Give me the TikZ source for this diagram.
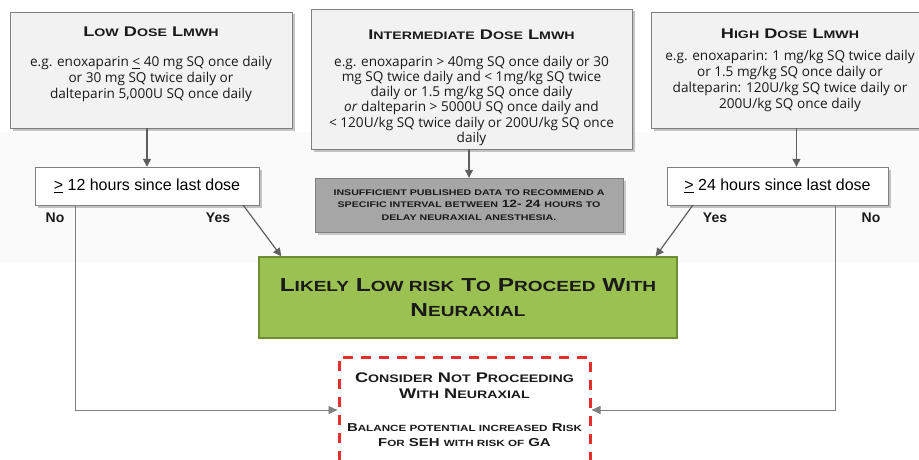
\documentclass[tikz,border=0pt]{standalone}
\usepackage{fontspec}
\usepackage{graphicx}
\usetikzlibrary{arrows.meta,shadows}
\setmainfont{Open Sans}
\newfontfamily\arialfont{Liberation Sans}
\newfontfamily\capsfont[FakeStretch=1.3]{Liberation Sans}
\newcommand{\lo}[1]{\scalebox{0.78}{#1}}
\newcommand{\padtop}[1]{\rule{0pt}{#1}}
\newcommand{\padbot}[1]{\rule[-#1]{0pt}{#1}}
\newcommand{\titlefont}{\capsfont\bfseries\fontsize{14}{16}\selectfont}
\definecolor{boxgray}{HTML}{F2F2F2}
\definecolor{linegray}{HTML}{7F7F7F}
\definecolor{arrowgray}{HTML}{5F5F5F}
\definecolor{datagray}{HTML}{A6A6A6}
\definecolor{riskgreen}{HTML}{9BC153}
\definecolor{greenline}{HTML}{6E8C34}
\definecolor{alertred}{HTML}{E3302F}
\definecolor{textblack}{HTML}{1A1A1A}

\begin{document}
\begin{tikzpicture}[x=1pt,y=-1pt,
    dosebox/.style={draw=linegray, fill=boxgray, align=center, text=textblack,
      drop shadow={shadow xshift=2.5pt, shadow yshift=-2.5pt, fill=black!45},
      font=\fontsize{13.6}{16}\selectfont},
    checkbox/.style={draw=linegray, fill=white, align=center,
      drop shadow={shadow xshift=2.5pt, shadow yshift=-2.5pt, fill=black!45},
      font=\arialfont\fontsize{16}{16}\selectfont},
    databox/.style={draw=linegray, fill=datagray, align=center, text=textblack,
      drop shadow={shadow xshift=2.5pt, shadow yshift=-2.5pt, fill=black!40},
      font=\capsfont\bfseries\fontsize{10.5}{12.5}\selectfont},
    proceedbox/.style={draw=greenline, line width=1.5pt, fill=riskgreen,
      align=center, text=textblack,
      font=\capsfont\bfseries\fontsize{18.8}{25}\selectfont},
    considerbox/.style={draw=alertred, line width=3pt,
      dash pattern=on 10pt off 8pt, align=center, text=textblack,
      font=\capsfont\bfseries\fontsize{14}{16}\selectfont},
    answer/.style={font=\arialfont\bfseries\fontsize{14}{16}\selectfont,
      text=textblack},
    flow/.style={draw=arrowgray, line width=1.2pt,
      -{Triangle[length=8pt,width=8pt]}},
    noline/.style={draw=linegray, line width=0.9pt,
      -{Triangle[length=9pt,width=8pt]}}]

    \useasboundingbox (0,0) rectangle (919,460);
    \clip (0,0) rectangle (919,460);
    \fill[black!2] (0,132) rectangle (919,262);

    % dose boxes
    \node[dosebox, minimum width=282, minimum height=116] (low) at (151,70)
        {{\titlefont L\lo{OW} D\lo{OSE} L\lo{MWH}}\\[14pt]
         e.g. enoxaparin \underline{<} 40 mg SQ once daily\\
         or 30 mg SQ twice daily or\\
         dalteparin 5,000U SQ once daily\padbot{14pt}};
    \node[dosebox, minimum width=321, minimum height=134,
        font=\fontsize{13.6}{15.3}\selectfont] (inter) at (471.5,79)
        {{\titlefont\padtop{27pt}I\lo{NTERMEDIATE} D\lo{OSE} L\lo{MWH}}\\[11.5pt]
         e.g. enoxaparin > 40mg SQ once daily or 30\\
         mg SQ twice daily and < 1mg/kg SQ twice\\
         daily or 1.5 mg/kg SQ once daily\\
         \emph{or} dalteparin > 5000U SQ once daily and\\
         < 120U/kg SQ twice daily or 200U/kg SQ once\\
         daily};
    \node[dosebox, minimum width=278, minimum height=116] (high) at (790,70)
        {{\titlefont H\lo{IGH} D\lo{OSE} L\lo{MWH}}\\[6pt]
         e.g. enoxaparin: 1 mg/kg SQ twice daily\\
         or 1.5 mg/kg SQ once daily or\\
         dalteparin: 120U/kg SQ twice daily or\\
         200U/kg SQ once daily\padbot{3pt}};

    % timing checks
    \node[checkbox, minimum width=224, minimum height=38] (twelve) at (147,186)
        {\underline{>} 12 hours since last dose};
    \node[checkbox, minimum width=221, minimum height=38] (twentyfour) at (777.5,186)
        {\underline{>} 24 hours since last dose};
    \node[databox, minimum width=308, minimum height=54] (nodata) at (469,205)
        {\lo{INSUFFICIENT PUBLISHED DATA TO RECOMMEND A}\\
         \lo{SPECIFIC INTERVAL BETWEEN} 12- 24 \lo{HOURS TO}\\
         \lo{DELAY NEURAXIAL ANESTHESIA.}};

    % outcomes
    \node[proceedbox, minimum width=418, minimum height=81] (proceed) at (468,297.5)
        {L\lo{IKELY} L\lo{OW RISK} T\lo{O} P\lo{ROCEED} W\lo{ITH}\\
         N\lo{EURAXIAL}};
    \node[considerbox, minimum width=251, minimum height=106] (consider) at (464.5,410)
        {C\lo{ONSIDER} N\lo{OT} P\lo{ROCEEDING}\\
         W\lo{ITH} N\lo{EURAXIAL}\\[17pt]
         {\fontsize{11.5}{15}\selectfont B\lo{ALANCE POTENTIAL INCREASED} R\lo{ISK}}\\[-1pt]
         {\fontsize{11.5}{15}\selectfont F\lo{OR} SEH \lo{WITH RISK OF} GA}};

    \node[answer] (noa) at (55,218) {No};
    \node[answer] (yesa) at (218,218) {Yes};
    \node[answer] (yesb) at (715,218) {Yes};
    \node[answer] (nob) at (871,218) {No};

    \draw[flow] (twelve.north |- low.south) -- (twelve.north);
    \draw[flow] (nodata.north |- inter.south) -- (nodata.north);
    \draw[flow] ([xshift=19]twentyfour.north |- high.south) -- ([xshift=19]twentyfour.north);
    \draw[flow] ([xshift=-16]twelve.south east) -- ([xshift=23]proceed.north west);
    \draw[flow] ([xshift=26]twentyfour.south west) -- ([xshift=-22]proceed.north east);
    \draw[noline] ([xshift=41]twelve.south west) |- (consider.west);
    \draw[noline] ([xshift=-53]twentyfour.south east) |- (consider.east);

\end{tikzpicture}
\end{document}
